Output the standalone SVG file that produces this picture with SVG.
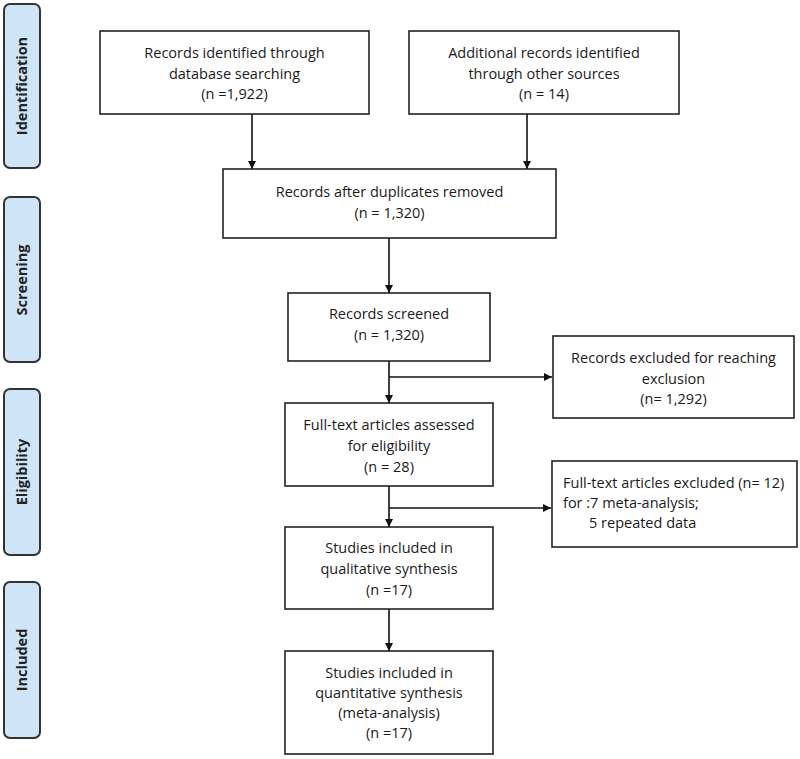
<svg xmlns="http://www.w3.org/2000/svg" width="800" height="759" viewBox="0 0 800 759">
<defs>
<marker id="ah" viewBox="0 0 10 10" refX="10" refY="5" markerWidth="8" markerHeight="8" markerUnits="userSpaceOnUse" orient="auto">
<path d="M0,0 L10,5 L0,10 z" fill="#111"/>
</marker>
</defs>
<style>
.box{fill:#fff;stroke:#222;stroke-width:1.6}
.side{fill:#cfe4f6;stroke:#333;stroke-width:2}
.t{font-family:"Open Sans","Liberation Sans",sans-serif;font-size:14.5px;fill:#1a1a1a;text-anchor:middle}
.tl{font-family:"Open Sans","Liberation Sans",sans-serif;font-size:14.5px;fill:#1a1a1a}
.s{font-family:"Open Sans","Liberation Sans",sans-serif;font-size:14.5px;font-weight:bold;fill:#222;text-anchor:middle}
.c{fill:none;stroke:#111;stroke-width:1.6}
</style>
<rect width="800" height="759" fill="#fff"/>
<g id="side-identification"><rect class="side" x="4" y="4" width="36" height="164" rx="6"/><text class="s" transform="translate(27,86) rotate(-90)">Identification</text></g>
<g id="side-screening"><rect class="side" x="4" y="197" width="36" height="165" rx="6"/><text class="s" transform="translate(27,280) rotate(-90)">Screening</text></g>
<g id="side-eligibility"><rect class="side" x="4" y="389" width="36" height="166" rx="6"/><text class="s" transform="translate(27,472) rotate(-90)">Eligibility</text></g>
<g id="side-included"><rect class="side" x="4" y="582" width="36" height="156" rx="6"/><text class="s" transform="translate(27,660) rotate(-90)">Included</text></g>

<g id="connectors">
<path class="c" d="M252,114 V169" marker-end="url(#ah)"/>
<path class="c" d="M527,114 V169" marker-end="url(#ah)"/>
<path class="c" d="M389,238 V293" marker-end="url(#ah)"/>
<path class="c" d="M389,361 V403" marker-end="url(#ah)"/>
<path class="c" d="M389,377 H552" marker-end="url(#ah)"/>
<path class="c" d="M389,486 V527" marker-end="url(#ah)"/>
<path class="c" d="M389,508 H551" marker-end="url(#ah)"/>
<path class="c" d="M389,609 V651" marker-end="url(#ah)"/>
</g>

<g id="n1"><rect class="box" x="100" y="31" width="269" height="83"/>
<text class="t" x="234.5" y="58">Records identified through</text>
<text class="t" x="234.5" y="79">database searching</text>
<text class="t" x="234.5" y="99">(n =1,922)</text></g>
<g id="n2"><rect class="box" x="409" y="31" width="270" height="83"/>
<text class="t" x="544" y="58">Additional records identified</text>
<text class="t" x="544" y="79">through other sources</text>
<text class="t" x="544" y="99">(n = 14)</text></g>
<g id="n3"><rect class="box" x="223" y="169" width="333" height="69"/>
<text class="t" x="389.5" y="197">Records after duplicates removed</text>
<text class="t" x="389.5" y="218">(n = 1,320)</text></g>
<g id="n4"><rect class="box" x="288" y="293" width="202" height="68"/>
<text class="t" x="389" y="319">Records screened</text>
<text class="t" x="389" y="340">(n = 1,320)</text></g>
<g id="n5"><rect class="box" x="553" y="336" width="241" height="82"/>
<text class="t" x="673.5" y="363">Records excluded for reaching</text>
<text class="t" x="673.5" y="384">exclusion</text>
<text class="t" x="673.5" y="404">(n= 1,292)</text></g>
<g id="n6"><rect class="box" x="285" y="403" width="208" height="83"/>
<text class="t" x="389" y="430">Full-text articles assessed</text>
<text class="t" x="389" y="451">for eligibility</text>
<text class="t" x="389" y="472">(n = 28)</text></g>
<g id="n7"><rect class="box" x="552" y="461" width="245" height="86"/>
<text class="tl" x="563" y="488">Full-text articles excluded (n= 12)</text>
<text class="tl" x="563" y="508">for :7 meta-analysis;</text>
<text class="tl" x="589" y="528">5 repeated data</text></g>
<g id="n8"><rect class="box" x="285" y="527" width="208" height="82"/>
<text class="t" x="389" y="553">Studies included in</text>
<text class="t" x="389" y="574">qualitative synthesis</text>
<text class="t" x="389" y="595">(n =17)</text></g>
<g id="n9"><rect class="box" x="285" y="651" width="208" height="103"/>
<text class="t" x="389" y="678">Studies included in</text>
<text class="t" x="389" y="698">quantitative synthesis</text>
<text class="t" x="389" y="718">(meta-analysis)</text>
<text class="t" x="389" y="738">(n =17)</text></g>
</svg>
